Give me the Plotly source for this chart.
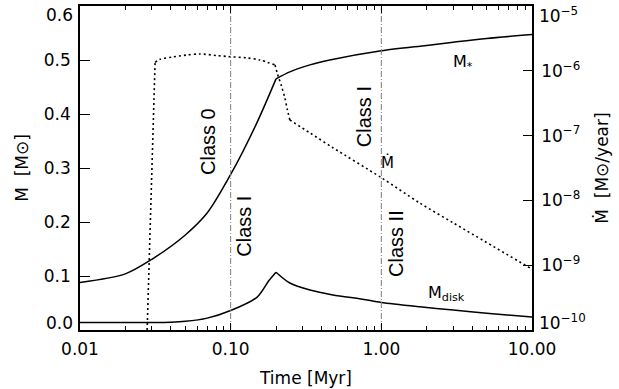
import numpy as np
import plotly.graph_objects as go

# ---- data ----
t_star = [0.01, 0.02, 0.03, 0.05, 0.07, 0.1, 0.15, 0.2, 0.247, 0.336, 0.455, 1.0, 2.0, 3.0, 5.0, 10.0]
m_star = [0.088, 0.104, 0.131, 0.176, 0.217, 0.288, 0.385, 0.465, 0.478, 0.491, 0.500, 0.517, 0.527, 0.533, 0.540, 0.547]

t_disk = [0.01, 0.03, 0.04, 0.05, 0.07, 0.1, 0.15, 0.18, 0.2, 0.247, 0.336, 0.477, 0.75, 1.0, 1.8, 3.0, 5.0, 10.0]
m_disk = [0.014, 0.014, 0.0145, 0.016, 0.022, 0.036, 0.061, 0.092, 0.107, 0.087, 0.074, 0.065, 0.057, 0.051, 0.043, 0.037, 0.031, 0.024]

t_mdot = [0.0279, 0.0315, 0.034, 0.041, 0.051, 0.0625, 0.081, 0.096, 0.128, 0.156, 0.197,
          0.204, 0.218, 0.229, 0.238, 0.247, 0.336, 0.477, 1.0, 1.8, 3.0, 10.0]
mdot = [1e-10, 1.35e-6, 1.51e-6, 1.63e-6, 1.75e-6, 1.82e-6, 1.72e-6, 1.66e-6, 1.58e-6, 1.47e-6, 1.23e-6,
        9.1e-7, 5.7e-7, 3.8e-7, 2.5e-7, 1.74e-7, 1.1e-7, 6.5e-8, 2.24e-8, 9.1e-9, 4.5e-9, 8.7e-10]

# indices where the curves have sharp corners
star_kinks = [7]
disk_kinks = [8]
mdot_kinks = [1, 10, 15]

class_bounds = [0.1, 1.0]

x_ticks = [0.01, 0.1, 1.0, 10.0]
x_ticktext = ["0.01", "0.10", "1.00", "10.00"]
x_minor = [m * d for d in [0.01, 0.1, 1.0] for m in range(2, 10)]

y_ticks = [0.1, 0.2, 0.3, 0.4, 0.5]
y_edge = [0.0, 0.6]
y2_ticks = [1e-9, 1e-8, 1e-7, 1e-6]
y2_edge = [1e-10, 1e-5]

class_labels = [("Class 0", 0.0707, 0.35), ("Class I", 0.1225, 0.193),
                ("Class I", 0.767, 0.396), ("Class II", 1.25, 0.161)]

TICKFONT = dict(family="DejaVu Sans", size=17, color="black")

fig = go.Figure()


def add_segments(t, v, kinks, line, yaxis="y"):
    cuts = [0] + list(kinks) + [len(t) - 1]
    for a, b in zip(cuts[:-1], cuts[1:]):
        seg_t, seg_v = t[a:b + 1], v[a:b + 1]
        shape = "spline" if len(seg_t) > 2 else "linear"
        fig.add_trace(go.Scatter(x=seg_t, y=seg_v, mode="lines", yaxis=yaxis,
                                 line=dict(shape=shape, smoothing=0.8, **line),
                                 showlegend=False, hoverinfo="skip"))


add_segments(t_star, m_star, star_kinks, dict(color="black", width=1.5))
add_segments(t_disk, m_disk, disk_kinks, dict(color="black", width=1.5))
add_segments(t_mdot, mdot, mdot_kinks, dict(color="black", width=1.6, dash="2px,3px"), yaxis="y2")

for b in class_bounds:
    fig.add_trace(go.Scatter(x=[b, b], y=[0, 0.6], mode="lines",
                             line=dict(color="#7f7f7f", width=1, dash="6px,2px,1px,2px"),
                             showlegend=False, hoverinfo="skip"))

for txt, tx, ty in class_labels:
    fig.add_annotation(x=np.log10(tx), y=ty, xref="x", yref="y", text=txt, textangle=-90,
                       showarrow=False, font=dict(family="Liberation Sans", size=20, color="black"))

fig.add_annotation(x=np.log10(3.48), y=0.496, text="M<sub>*</sub>", showarrow=False,
                   font=dict(family="DejaVu Sans", size=16, color="black"))
fig.add_annotation(x=np.log10(1.106), y=0.311, text="Ṁ", showarrow=False,
                   font=dict(family="DejaVu Sans", size=15, color="black"))
fig.add_annotation(x=np.log10(2.72), y=0.0685, text="M<sub>disk</sub>", showarrow=False,
                   font=dict(family="DejaVu Sans", size=16, color="black"))

# edge tick labels shifted inward, as in the reference
for v, sh in zip(y_edge, [7, -9]):
    fig.add_annotation(x=0, xref="paper", y=v, yref="y", text=f"{v:.1f}", showarrow=False,
                       xanchor="right", yanchor="middle", xshift=-5, yshift=sh, font=TICKFONT)
for v, sh in zip(y2_edge, [8, -9]):
    fig.add_annotation(x=1, xref="paper", y=np.log10(v), yref="y2",
                       text=f"10<sup>−{int(round(-np.log10(v)))}</sup>", showarrow=False,
                       xanchor="left", yanchor="middle", xshift=5, yshift=sh, font=TICKFONT)

fig.update_layout(
    width=619, height=389,
    margin=dict(l=80, r=87, t=6, b=59, autoexpand=False),
    paper_bgcolor="white", plot_bgcolor="white",
    showlegend=False,
    xaxis=dict(type="log", range=[-2, 1], tickvals=x_ticks, ticktext=x_ticktext, automargin=False,
               ticks="inside", ticklen=7, tickwidth=1.2, tickcolor="black",
               minor=dict(tickvals=x_minor, ticks="inside", ticklen=4, tickwidth=1, tickcolor="black", showgrid=False),
               showline=True, linecolor="black", linewidth=1.5, mirror="ticks",
               showgrid=False, zeroline=False, tickfont=TICKFONT, ticklabelstandoff=3,
               title=dict(text="Time [Myr]", font=dict(family="DejaVu Sans", size=17, color="black"), standoff=14)),
    yaxis=dict(range=[0, 0.6], tickvals=y_ticks, ticktext=[f"{v:.1f}" for v in y_ticks], automargin=False,
               ticks="inside", ticklen=10, tickwidth=1.2, tickcolor="black",
               showline=True, linecolor="black", linewidth=1.5,
               showgrid=False, zeroline=False, tickfont=TICKFONT, ticklabelstandoff=4,
               title=dict(text="M  [M\u2299]", font=dict(family="DejaVu Sans", size=17, color="black"), standoff=11)),
    yaxis2=dict(type="log", range=[-10, -5], overlaying="y", side="right", automargin=False,
                tickvals=y2_ticks, ticktext=[f"10<sup>−{int(round(-np.log10(v)))}</sup>" for v in y2_ticks],
                ticks="inside", ticklen=9, tickwidth=1.2, tickcolor="black",
                showline=True, linecolor="black", linewidth=1.5,
                showgrid=False, zeroline=False, tickfont=TICKFONT, ticklabelstandoff=4,
                title=dict(text="Ṁ  [M\u2299/year]", font=dict(family="DejaVu Sans", size=17, color="black"), standoff=17)),
)

fig.write_html("out.html", config={"displayModeBar": False},
               post_script="document.body.style.margin='0';")
